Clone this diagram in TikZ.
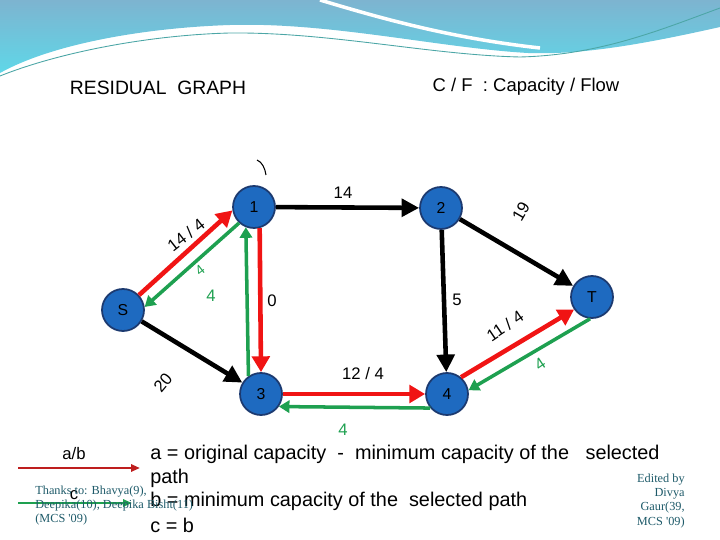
\documentclass[tikz,border=0pt]{standalone}
\usepackage{fontspec}
\setmainfont{Liberation Sans}
\newfontfamily\notefont{Liberation Serif}
\usetikzlibrary{arrows.meta,positioning}

\definecolor{nodeblue}{RGB}{30,106,192}
\definecolor{nodeedge}{RGB}{28,58,112}
\definecolor{flowred}{RGB}{240,20,20}
\definecolor{backgreen}{RGB}{30,160,80}
\definecolor{legred}{RGB}{190,30,30}
\definecolor{notecol}{RGB}{30,90,105}
\definecolor{headtop}{RGB}{125,180,208}
\definecolor{headbot}{RGB}{95,215,232}

\begin{document}
\begin{tikzpicture}[x=0.02cm, y=-0.02cm,
  vertex/.style={circle, draw=nodeedge, line width=1pt, fill=nodeblue, minimum size=0.84cm, inner sep=0pt, font=\fontsize{9}{10}\selectfont},
  edgeline/.style={line width=2.6pt, >={Triangle[length=10pt,width=10pt]}},
  flowline/.style={draw=flowred, line width=2.6pt, >={Triangle[length=9pt,width=10pt]}},
  backline/.style={draw=backgreen, line width=2pt, >={Triangle[length=6pt,width=7pt]}},
  elabel/.style={font=\fontsize{9.5}{11}\selectfont},
  glabel/.style={text=backgreen, font=\fontsize{9.5}{11}\selectfont},
  legtext/.style={anchor=west, inner sep=0pt, font=\fontsize{11.3}{13}\selectfont},
  notetext/.style={text=notecol, inner sep=0pt, font=\notefont\fontsize{7}{8}\selectfont}]
\useasboundingbox (0,0) rectangle (720,540);

% Header wave
\shade[top color=headtop, bottom color=headbot] (0,0) -- (720,0) -- (720,27)
  .. controls (640,45) and (580,55) .. (528,53)
  .. controls (440,48) and (330,22) .. (230,25)
  .. controls (140,28) and (50,45) .. (0,73) -- cycle;
\draw[white, line width=2pt] (320,0) .. controls (380,18) and (450,38) .. (540,48);
\draw[teal!70, line width=0.5pt] (0,76) .. controls (60,52) and (150,35) .. (230,33)
  .. controls (330,32) and (430,55) .. (520,57) .. controls (600,55) and (660,30) .. (720,8);

% Titles
\node[font=\fontsize{11}{13}\selectfont] (title) at (158,88) {RESIDUAL\ \ GRAPH};
\node[font=\fontsize{10.5}{12}\selectfont] (key) at (526,87) {C / F\ \ :\ Capacity / Flow};
\draw[line width=0.6pt] (257,160) .. controls (262,162) and (265,168) .. (266,175);

% Vertices
\node[vertex] (s) at (123,310) {S};
\node[vertex] (v1) at (254,207) {1};
\node[vertex] (v2) at (441,208) {2};
\node[vertex] (t) at (592,297) {T};
\node[vertex] (v3) at (261,394) {3};
\node[vertex] (v4) at (447,394) {4};

% Edges
\draw[edgeline, ->] (v1) -- (v2);
\draw[edgeline, ->] (v2) -- (t);
\draw[edgeline, ->] (v2) -- (v4);
\draw[edgeline, ->] (s) -- (v3);
\draw[flowline, ->] (s.43) -- (v1.189);
\draw[backline, ->] (v1.227) -- (s.8);
\draw[flowline, ->] (v1.-75) -- (v3.90);
\draw[backline, ->] (v3.125) -- (v1.-112);
\draw[flowline, ->] (v3.0) -- (v4.180);
\draw[backline, ->] (v4.-140) -- (v3.-35);
\draw[flowline, ->] (v4.50) -- (t.215);
\draw[backline, ->] (t.265) -- (v4.10);

% Edge labels
\node[elabel, rotate=38] (l1) at (186,235) {14 / 4};
\node[glabel, rotate=38, font=\fontsize{8}{9}\selectfont] (g1) at (200,270) {4};
\node[glabel] (g2) at (211,296) {4};
\node[elabel] (l2) at (272,301) {0};
\node[elabel] (l3) at (343,193) {14};
\node[elabel, rotate=60] (l4) at (521,212) {19};
\node[elabel] (l5) at (457,300) {5};
\node[elabel, rotate=34] (l6) at (505,326) {11 / 4};
\node[glabel, rotate=34] (g3) at (540,364) {4};
\node[elabel, rotate=50] (l7) at (163,383) {20};
\node[elabel] (l8) at (363,374) {12 / 4};
\node[glabel] (g4) at (343,430) {4};

% Legend
\node[elabel] (ab) at (74,454) {a/b};
\node[elabel] (c) at (74,495) {c};
\coordinate (ra) at (18,468);
\coordinate (rb) at (140,468);
\coordinate (ga) at (18,503);
\coordinate (gb) at (132,503);
\draw[draw=legred, line width=1.3pt, -{Triangle[length=5pt,width=4pt]}] (ra) -- (rb);
\draw[draw=backgreen, line width=1.3pt, -{Triangle[length=5pt,width=4pt]}] (ga) -- (gb);
\node[legtext] (d1) at (150,454) {a = original capacity\ \ -\ \ minimum capacity of the\ \ \ selected};
\node[legtext] (d2) at (150,478) {path};
\node[legtext] (d3) at (150,501) {b = minimum capacity of the\ \ selected path};
\node[legtext] (d4) at (150,525) {c = b};

% Credits
\node[notetext, anchor=north west, align=left] (thanks) at (35,486) {Thanks to: Bhavya(9),\\Deepika(10), Deepika Bisht(11)\\(MCS '09)};
\node[notetext, anchor=north east, align=right] (edit) at (685,474) {Edited by\\Divya\\Gaur(39,\\MCS '09)};
\end{tikzpicture}
\end{document}
